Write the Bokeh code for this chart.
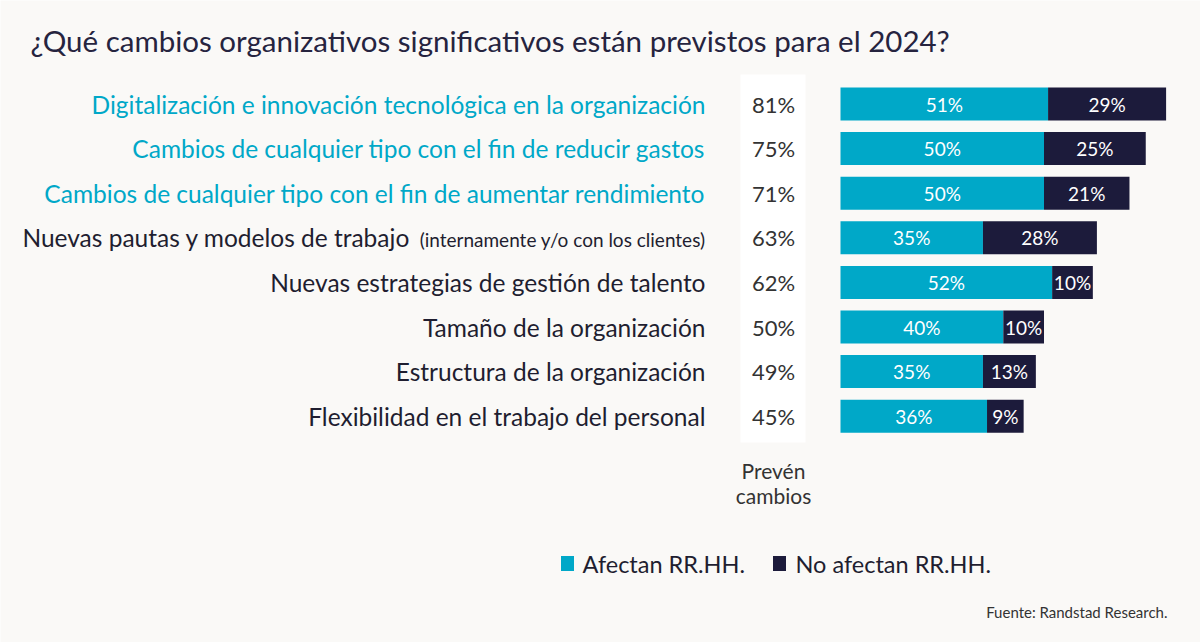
from bokeh.plotting import figure
from bokeh.models import Range1d, ColumnDataSource
from bokeh.embed import file_html
from bokeh.resources import INLINE
from bokeh.core.properties import value

title = "¿Qué cambios organizativos significativos están previstos para el 2024?"
categories = [
    "Digitalización e innovación tecnológica en la organización",
    "Cambios de cualquier tipo con el fin de reducir gastos",
    "Cambios de cualquier tipo con el fin de aumentar rendimiento",
    "Nuevas pautas y modelos de trabajo",
    "Nuevas estrategias de gestión de talento",
    "Tamaño de la organización",
    "Estructura de la organización",
    "Flexibilidad en el trabajo del personal",
]
sub_note = "(internamente y/o con los clientes)"
prevén = [81, 75, 71, 63, 62, 50, 49, 45]
afectan = [51, 50, 50, 35, 52, 40, 35, 36]
no_afectan = [29, 25, 21, 28, 10, 10, 13, 9]
highlighted = [True, True, True, False, False, False, False, False]
legend_labels = ["Afectan RR.HH.", "No afectan RR.HH."]
source_note = "Fuente: Randstad Research."

W, H = 1200, 642
BG = "#faf9f7"
CYAN = "#00a8c8"
NAVY = "#1c1b3b"
DARK = "#1f1e30"
FONT = "Lato"

X0, PXU = 840.0, 4.07      # bar origin px, px per percent
Y0, STEP = 103.5, 44.6     # first row centre px, row step px

def X(px):
    return (px - X0) / PXU

def Y(py):
    return (py - Y0) / STEP

p = figure(width=W, height=H, output_backend="svg", toolbar_location=None,
           x_range=Range1d(X(0), X(W)), y_range=Range1d(Y(H), Y(0)),
           min_border=0, background_fill_color=BG, border_fill_color=BG)
p.axis.visible = False
p.grid.visible = False
p.outline_line_color = None

n = len(categories)
idx = list(range(n))

# white column behind "Prevén cambios" values
p.quad(left=[X(740)], right=[X(805)], top=[Y(74)], bottom=[Y(442)],
       fill_color="white", line_color=None)

main_x = [X(705)] * n
main_x[3] = X(410)

src = ColumnDataSource(dict(
    y=idx, a=afectan, b=no_afectan,
    tot=[a + b for a, b in zip(afectan, no_afectan)],
    amid=[a / 2 for a in afectan],
    bmid=[a + b / 2 for a, b in zip(afectan, no_afectan)],
    alab=[f"{a}%" for a in afectan],
    blab=[f"{b}%" for b in no_afectan],
    prev=[f"{v}%" for v in prevén],
    cat=categories,
    col=[CYAN if h else DARK for h in highlighted],
    mx=main_x,
))

bh = 33 / STEP
p.hbar(y="y", left=0, right="a", height=bh, fill_color=CYAN, line_color=None, source=src)
p.hbar(y="y", left="a", right="tot", height=bh, fill_color=NAVY, line_color=None, source=src)

for xcol, tcol in (("amid", "alab"), ("bmid", "blab")):
    p.text(x=xcol, y="y", text=tcol, source=src, text_color="white",
           text_font=value(FONT), text_font_size="19px", text_align="center",
           text_baseline="middle")

# prevén cambios values
p.text(x=X(773), y="y", text="prev", source=src, text_color="#333333",
       text_font=value(FONT), text_font_size="22px", text_align="center",
       text_baseline="middle")

# category labels
p.text(x="mx", y="y", text="cat", source=src, text_color="col",
       text_font=value(FONT), text_font_size="24.5px", text_align="right",
       text_baseline="middle")
p.text(x=[X(705)], y=[3 + 2 / STEP], text=[sub_note], text_color=DARK,
       text_font=value(FONT), text_font_size="19px", text_align="right",
       text_baseline="middle")

# column caption
p.text(x=[X(773), X(773)], y=[Y(470), Y(495)], text=["Prevén", "cambios"],
       text_color="#333333", text_font=value(FONT), text_font_size="21px",
       text_align="center", text_baseline="middle")

# title
p.text(x=[X(30)], y=[Y(40)], text=[title], text_color="#26243f",
       text_font=value(FONT), text_font_size="29.5px", text_align="left",
       text_baseline="middle")

# legend
sq_w, sq_h = 13 / PXU, 15 / STEP
p.rect(x=[X(567), X(779)], y=[Y(563), Y(563)], width=sq_w, height=sq_h,
       fill_color=[CYAN, NAVY], line_color=None)
p.text(x=[X(582), X(795)], y=[Y(563), Y(563)], text=legend_labels,
       text_color=DARK, text_font=value(FONT), text_font_size="23.5px",
       text_align="left", text_baseline="middle")

# source
p.text(x=[X(1167)], y=[Y(611)], text=[source_note], text_color="#333333",
       text_font=value(FONT), text_font_size="15px", text_align="right",
       text_baseline="middle")

open("out.html", "w").write(file_html(p, INLINE))
